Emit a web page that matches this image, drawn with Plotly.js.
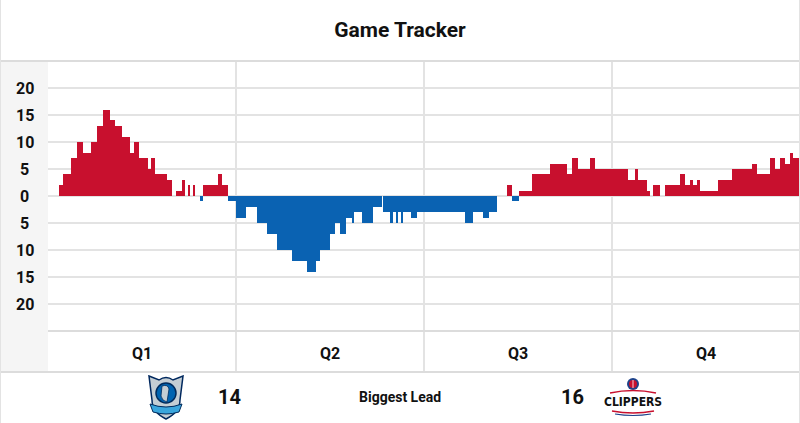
<!DOCTYPE html>
<html>
<head>
<meta charset="utf-8">
<script src="https://cdn.plot.ly/plotly-3.0.1.min.js"></script>
<style>
  body{margin:0;background:#fff;}
  #grafica{width:800px;height:423px;}
</style>
</head>
<body>
<div id="grafica"></div>
<script>
// minuto de juego en que cambia la ventaja, y la ventaja (positivo = Clippers, negativo = Mavericks)
const inicio=[0,0.68,0.95,1.45,1.87,2.25,2.76,3.15,3.51,3.94,4.26,4.72,5.21,5.49,5.79,6.40,6.57,6.83,7.58,7.90,
  8.15,8.53,8.74,8.92,9.06,9.24,9.38,9.70,9.87,10.87,11.09,11.51,11.98,12.62,13.32,13.96,14.60,15.56,16.56,17.11,
  17.36,18.00,18.32,18.64,19.02,19.40,19.53,20.02,20.76,21.30,21.40,21.83,22.04,22.21,22.36,22.53,22.68,23.15,23.57,26.62,
  27.15,27.79,28.17,28.64,29.28,29.64,30.08,30.87,32.04,33.15,33.43,33.85,34.60,34.91,37.04,37.47,37.68,38.21,38.43,38.64,
  39.06,39.38,40.34,40.66,40.98,41.19,41.41,41.62,42.79,43.64,44.92,45.24,46.09,46.40,46.72,47.04,47.36,47.57];
const margen=[0,2,4,7,10,8,10,13,16,14,13,11,8,10,7,5,7,4,3,0,
  1,3,0,2,0,2,0,-1,2,4,2,-1,-4,-2,-5,-7,-10,-12,-14,-12,
  -10,-7,-5,-7,-4,-5,-3,-5,-2,0,-3,-5,-3,-5,-3,-5,-3,-4,-3,-5,
  -3,-4,-3,0,2,-1,1,4,6,4,7,5,7,5,3,5,3,1,0,2,
  0,2,4,2,3,2,3,1,3,5,6,4,7,5,7,6,8,7];
const finPartido=48;
const cuartos=["Q1","Q2","Q3","Q4"];
const ejeY=[20,15,10,5,0,-5,-10,-15,-20];
const etiquetasY=["20","15","10","5","0","5","10","15","20"];
const mayorVentaja=[14,16]; // Mavericks, Clippers

const rojo="#c8102e", azul="#0a62b2", gris="#e3e3e3";
// area del grafico en pixeles
const L=48, T=61, W=752, H=270;
function px(x){return (x-L)/W;}
function py(y){return (T+H-y)/H;}

function prepararBarras(inicio,margen){
    let x=[],ancho=[],colores=[];
    for (let i = 0; i < inicio.length; i++) {
        let fin = i+1<inicio.length ? inicio[i+1] : finPartido;
        ancho[i]=fin-inicio[i];
        x[i]=inicio[i]+ancho[i]/2;
        colores[i]= margen[i]>=0 ? rojo : azul;
    }
    return {type:"bar",x:x,y:margen,width:ancho,marker:{color:colores,line:{width:0}},hoverinfo:"skip"};
}

function linea(x0,y0,x1,y1,color,ancho,xref,capa){
    return {type:"line",xref:xref||"paper",yref:"paper",x0:x0,x1:x1,y0:y0,y1:y1,line:{color:color,width:ancho},layer:capa||"above"};
}

let shapes=[
    {type:"rect",xref:"paper",yref:"paper",x0:px(0),x1:px(48),y0:py(372),y1:py(62),fillcolor:"#f5f5f5",line:{width:0},layer:"below"},
    linea(px(0),py(61),px(800),py(61),"#dcdcdc",2),
    linea(px(48),py(331),px(800),py(331),"#dcdcdc",2),
    linea(px(0),py(372),px(800),py(372),"#dcdcdc",2),
    linea(px(0.5),py(0),px(0.5),py(423),"#e3e3e3",1),
    linea(px(799.5),py(0),px(799.5),py(423),"#e3e3e3",1)
];
for (let i = 1; i < cuartos.length; i++) {
    shapes.push(linea(12*i,py(61),12*i,py(372),gris,2,"x","below"));
}

const fuente={family:"Roboto, Arial, sans-serif",color:"#111",weight:700};
function texto(xref,x,yref,y,t,tam,fam){
    return {xref:xref,yref:yref,x:x,y:y,text:t,showarrow:false,xanchor:"center",yanchor:"middle",
        font:{...fuente,size:tam,family:fam||fuente.family}};
}
let anotaciones=[];
for (let i = 0; i < ejeY.length; i++) {
    anotaciones.push(texto("paper",px(24.5),"y",ejeY[i],etiquetasY[i],16));
}
for (let i = 0; i < cuartos.length; i++) {
    anotaciones.push(texto("x",12*i+6,"paper",py(353),cuartos[i],16));
}
anotaciones.push(texto("paper",px(229),"paper",py(397),String(mayorVentaja[0]),20));
anotaciones.push(texto("paper",px(400),"paper",py(397),"Biggest Lead",14));
anotaciones.push(texto("paper",px(572),"paper",py(397),String(mayorVentaja[1]),20));
anotaciones.push(texto("paper",px(633),"paper",py(402),"CLIPPERS",12,"DejaVu Sans Condensed, Liberation Sans Narrow, Roboto, sans-serif"));

// logos dibujados a mano
const svgMavs='<svg xmlns="http://www.w3.org/2000/svg" viewBox="0 0 38 45" preserveAspectRatio="none">'+
  '<path d="M2 1 L12 5 Q19 0 26 5 L36 1 L33 25 Q33 37 19 44 Q5 37 5 25 Z" fill="#c4ced4" stroke="#00285e" stroke-width="1.5"/>'+
  '<circle cx="19" cy="18" r="10" fill="#0064b1" stroke="#002b5c" stroke-width="1.5"/>'+
  '<path d="M15 11 Q21 9 22 14 L20 27 Q15 26 14 21 Z" fill="#c4ced4" stroke="#002b5c" stroke-width="0.8"/>'+
  '<path d="M3 29 Q19 35 35 29 L32 37 Q19 41 6 37 Z" fill="#3aa6dd" stroke="#002b5c" stroke-width="1"/>'+
  '</svg>';
const svgClips='<svg xmlns="http://www.w3.org/2000/svg" viewBox="0 0 50 40">'+
  '<circle cx="25" cy="7" r="6" fill="#1d428a"/><circle cx="25" cy="7" r="4" fill="#c8102e"/>'+
  '<path d="M25 3 V11" stroke="#fff" stroke-width="0.8"/>'+
  '<path d="M2 16 Q25 11 48 16" stroke="#c8102e" stroke-width="1.5" fill="none"/>'+
  '<path d="M4 34 Q25 38 46 34" stroke="#c8102e" stroke-width="1.5" fill="none"/>'+
  '<path d="M7 37 Q25 40 43 37" stroke="#1d428a" stroke-width="1.2" fill="none"/>'+
  '</svg>';
function urlSvg(svg){return "data:image/svg+xml;charset=utf-8,"+encodeURIComponent(svg);}

let layout={
    width:800,height:423,
    margin:{l:L,r:0,t:T,b:423-T-H,pad:0},
    paper_bgcolor:"#fff",plot_bgcolor:"#fff",
    showlegend:false,
    title:{text:"Game Tracker",font:{...fuente,size:21},x:0.5,xref:"container",xanchor:"center",y:1-30/423,yref:"container",yanchor:"middle"},
    xaxis:{range:[0,finPartido],showgrid:false,zeroline:false,showticklabels:false,fixedrange:true},
    yaxis:{range:[-25,25],tickvals:ejeY,showticklabels:false,showgrid:true,gridcolor:gris,gridwidth:2,zeroline:false,fixedrange:true},
    bargap:0,
    shapes:shapes,
    annotations:anotaciones,
    images:[
        {source:urlSvg(svgMavs),xref:"paper",yref:"paper",x:px(147),y:py(375),sizex:38/W,sizey:45/H,xanchor:"left",yanchor:"top",sizing:"stretch",layer:"above"},
        {source:urlSvg(svgClips),xref:"paper",yref:"paper",x:px(608),y:py(377),sizex:50/W,sizey:40/H,xanchor:"left",yanchor:"top",sizing:"stretch",layer:"above"}
    ]
};

Plotly.newPlot("grafica",[prepararBarras(inicio,margen)],layout,{displayModeBar:false,staticPlot:true});
</script>
</body>
</html>
